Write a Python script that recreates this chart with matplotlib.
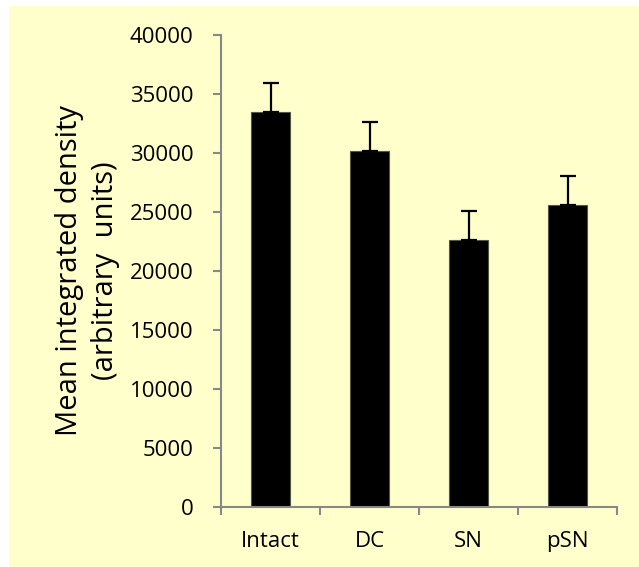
import matplotlib
matplotlib.use("Agg")
import matplotlib.pyplot as plt
from matplotlib.patches import Rectangle

# Data
categories = ["Intact", "DC", "SN", "pSN"]
means = [33500, 30150, 22650, 25600]
errors = [2450, 2450, 2450, 2450]
yticks = [0, 5000, 10000, 15000, 20000, 25000, 30000, 35000, 40000]

plt.rcParams["font.family"] = ["Open Sans", "DejaVu Sans"]

W, H = 639, 567
fig = plt.figure(figsize=(W / 100, H / 100), dpi=100, facecolor="white")

# Pale yellow chart area, kept behind the axes
fig.add_artist(Rectangle((9 / W, 0), 1 - 9 / W, 1 - 6 / H,
                         transform=fig.transFigure, facecolor="#FFFFCC",
                         edgecolor="none", zorder=-10))

ax = fig.add_axes([221 / W, 1 - 507 / H, (617 - 221) / W, (507 - 35) / H])
ax.set_zorder(5)
ax.set_facecolor("none")

x = list(range(len(categories)))
ax.bar(x, means, width=0.4, color="black", edgecolor="#555544", linewidth=0.8, zorder=2)
ax.errorbar(x, means, yerr=[[0] * len(errors), errors], fmt="none", ecolor="black",
            elinewidth=1.6, capsize=6, capthick=1.6, zorder=3)

ax.set_xlim(-0.5, len(categories) - 0.5)
ax.set_ylim(0, 40000)
ax.set_yticks(yticks)
ax.set_yticklabels([str(v) for v in yticks])

ax.set_xticks(x)
ax.set_xticklabels(categories)
ax.set_xticks([i - 0.5 for i in range(len(categories) + 1)], minor=True)
ax.tick_params(axis="x", which="major", length=0, pad=17, labelsize=16)
ax.tick_params(axis="x", which="minor", length=6, color="#888888", width=1.5, direction="out")
ax.tick_params(axis="y", length=6, color="#888888", width=1.5, direction="out", pad=14, labelsize=16)

for s in ["top", "right"]:
    ax.spines[s].set_visible(False)
for s in ["left", "bottom"]:
    ax.spines[s].set_color("#888888")
    ax.spines[s].set_linewidth(1.5)

ax.set_ylabel("Mean integrated density\n(arbitrary  units)", fontsize=21,
              linespacing=1.3, labelpad=7)

fig.savefig("out.png", dpi=100, facecolor="white")
